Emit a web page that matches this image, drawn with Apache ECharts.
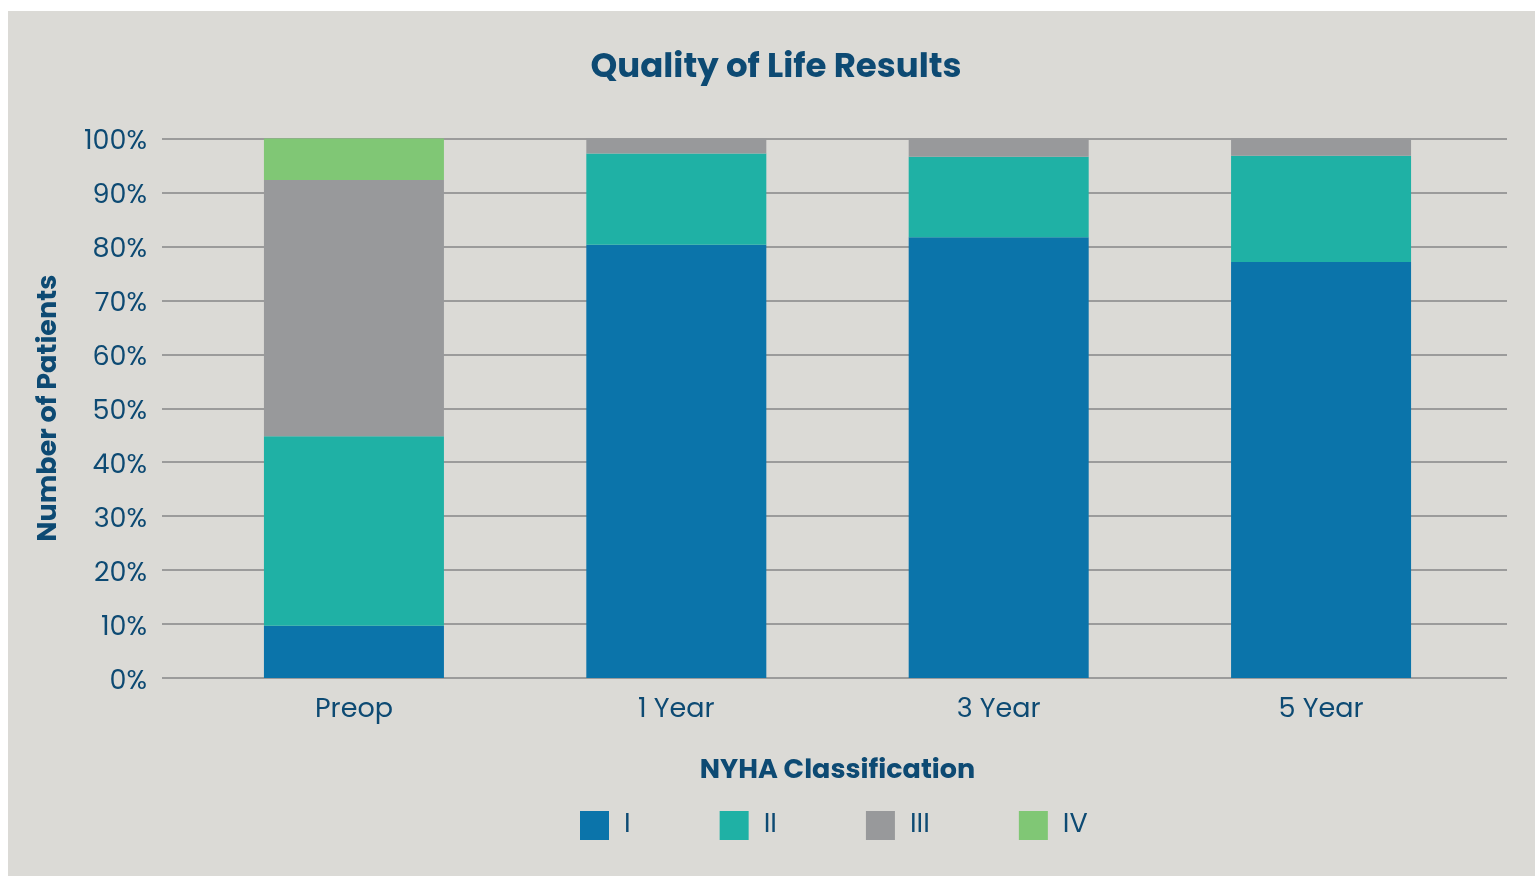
<!DOCTYPE html>
<html>
<head>
    <meta charset="utf-8">
	<title>Quality of Life Results</title>
	<style type="text/css">
		*{
			padding:0px;
			margin:0px;
		}
		body{
			width:1535px;
			height:876px;
			background:#ffffff;
			position:relative;
			overflow:hidden;
		}
		#chart{
			position:absolute;
			left:8px;
			top:11px;
			width:1527px;
			height:865px;
		}
	</style>
</head>
<body>
	<div id="chart"></div>
</body>
<script type="text/javascript" src="https://cdn.jsdelivr.net/npm/echarts@6/dist/echarts.min.js"></script>
<script type="text/javascript">
	// data
	var categories = ['Preop', '1 Year', '3 Year', '5 Year'];
	var classI   = [9.7, 80.3, 81.7, 77.1];
	var classII  = [35.1, 16.9, 14.9, 19.7];
	var classIII = [47.5, 2.8, 3.4, 3.2];
	var classIV  = [7.7, 0, 0, 0];
	var yTicks   = [0, 10, 20, 30, 40, 50, 60, 70, 80, 90, 100];

	var textColor = '#0d4a73';
	var fontFam = 'Poppins, "Open Sans", sans-serif';

	var myChart = echarts.init(document.getElementById('chart'));

	function bar(name, data, color){
		return {
			name: name,
			type: 'bar',
			stack: 'total',
			xAxisIndex: 1,
			yAxisIndex: 1,
			barWidth: 180,
			data: data,
			itemStyle: { color: color },
			emphasis: { disabled: true }
		};
	}

	var option = {
		backgroundColor: '#dbdad6',
		animation: false,
		title: {
			text: 'Quality of Life Results',
			left: 763,
			textAlign: 'center',
			top: 35,
			textStyle: {
				color: textColor,
				fontFamily: fontFam,
				fontWeight: 'bold',
				fontSize: 34
			}
		},
		legend: {
			left: 567,
			top: 795,
			itemWidth: 29,
			itemHeight: 29,
			itemGap: 89,
			icon: 'rect',
			data: ['I', 'II', 'III', 'IV'],
			textStyle: {
				color: textColor,
				fontFamily: fontFam,
				fontSize: 27,
				padding: [0, 0, 0, 10]
			}
		},
		grid: [
			// grid lines span a bit wider than the bars
			{ left: 154, right: 28, top: 127.5, height: 539.5 },
			{ left: 184.75, width: 1289.5, top: 127.5, height: 539.5 }
		],
		xAxis: [
			{ gridIndex: 0, type: 'value', show: false },
			{
				gridIndex: 1,
				type: 'category',
				data: categories,
				name: 'NYHA Classification',
				nameLocation: 'middle',
				nameGap: 80,
				nameTextStyle: {
					color: textColor,
					fontFamily: fontFam,
					fontWeight: 'bold',
					fontSize: 27
				},
				axisLine: { show: false },
				axisTick: { show: false },
				axisLabel: {
					margin: 19,
					color: textColor,
					fontFamily: fontFam,
					fontSize: 27
				}
			}
		],
		yAxis: [
			{
				gridIndex: 0,
				type: 'value',
				min: yTicks[0],
				max: yTicks[yTicks.length - 1],
				interval: 10,
				name: 'Number of Patients',
				nameLocation: 'middle',
				nameGap: 99,
				nameTextStyle: {
					color: textColor,
					fontFamily: fontFam,
					fontWeight: 'bold',
					fontSize: 27
				},
				axisLine: { show: false },
				axisTick: { show: false },
				axisLabel: {
					margin: 15,
					formatter: '{v|{value}%}',
					rich: {
						v: {
							color: textColor,
							fontFamily: fontFam,
							fontSize: 27,
							padding: [8, 0, 0, 0]
						}
					}
				},
				splitLine: {
					lineStyle: { color: '#9b9b9b', width: 2 }
				}
			},
			{
				gridIndex: 1,
				type: 'value',
				min: 0,
				max: 100,
				interval: 10,
				show: false,
				splitLine: { show: false }
			}
		],
		series: [
			bar('I', classI, '#0b74aa'),
			bar('II', classII, '#1fb1a5'),
			bar('III', classIII, '#98999b'),
			bar('IV', classIV, '#80c775')
		]
	};
	myChart.setOption(option);
</script>
</html>
